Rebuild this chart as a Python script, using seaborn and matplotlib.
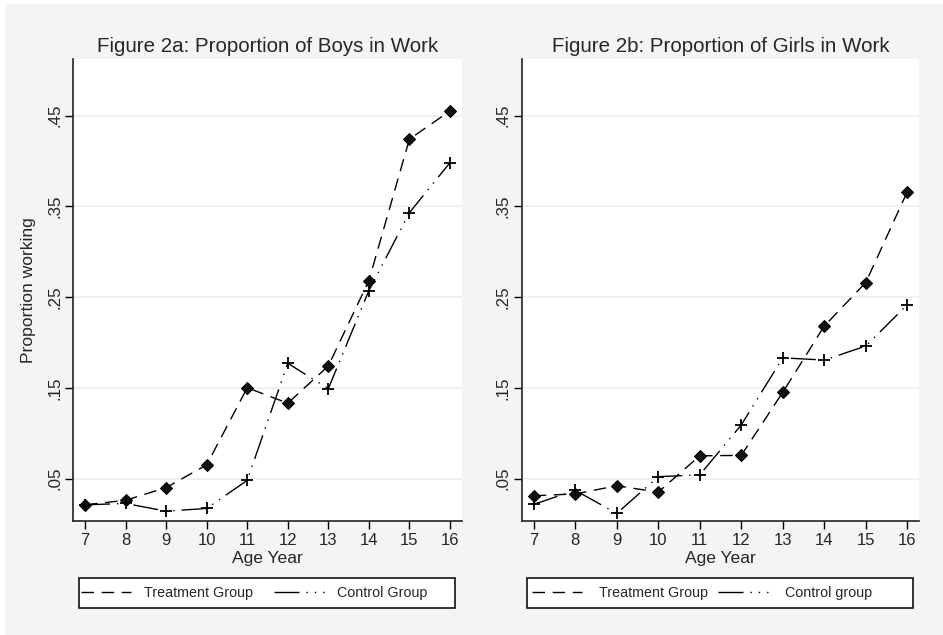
import matplotlib
matplotlib.use('Agg')
import matplotlib.pyplot as plt
import pandas as pd
import seaborn as sns
from matplotlib.lines import Line2D
from matplotlib.patches import Rectangle

# Data
ages = [7, 8, 9, 10, 11, 12, 13, 14, 15, 16]
boys_treatment = [0.021, 0.026, 0.040, 0.065, 0.150, 0.133, 0.174, 0.268, 0.424, 0.455]
boys_control = [0.021, 0.0225, 0.014, 0.017, 0.048, 0.177, 0.149, 0.257, 0.343, 0.398]
girls_treatment = [0.031, 0.033, 0.042, 0.035, 0.075, 0.0755, 0.145, 0.218, 0.266, 0.366]
girls_control = [0.0215, 0.037, 0.0115, 0.052, 0.054, 0.109, 0.183, 0.1805, 0.196, 0.2415]
ytick_vals = [0.05, 0.15, 0.25, 0.35, 0.45]
ytick_labels = ['.05', '.15', '.25', '.35', '.45']

sns.set_theme(style='white')
plt.rcParams['font.family'] = ['Liberation Sans', 'DejaVu Sans']

W, H = 943, 635
treat_dash = (0, (9, 5.5))
ctrl_dash = (0, (18, 5, 1, 5, 1, 5))

fig = plt.figure(figsize=(9.43, 6.35), dpi=100)
fig.patch.set_facecolor('white')
# light gray graph region (Stata-style)
fig.patches.append(Rectangle((5 / W, 0), 1, 1 - 4 / H, transform=fig.transFigure,
                             facecolor='#f4f4f4', edgecolor='none', zorder=-10))

panels = [
    dict(rect=[73.3 / W, 0.18, 388.4 / W, 0.7266], title='Figure 2a: Proportion of Boys in Work',
         treat=boys_treatment, ctrl=boys_control, ctrl_label='Control Group',
         ylabel='Proportion working', leg=(79, 455), start=2, htp=0.9, cs=1.5),
    dict(rect=[521.7 / W, 0.18, 397.6 / W, 0.7266], title='Figure 2b: Proportion of Girls in Work',
         treat=girls_treatment, ctrl=girls_control, ctrl_label='Control group',
         ylabel='', leg=(527, 913), start=5, htp=1.2, cs=0.7),
]

for p in panels:
    ax = fig.add_axes(p['rect'])
    ax.set_facecolor('white')
    df = pd.DataFrame({'age': ages, 'treat': p['treat'], 'ctrl': p['ctrl']})
    sns.lineplot(data=df, x='age', y='treat', ax=ax, color='black', linewidth=1.0,
                 linestyle=treat_dash, marker='D', markersize=6, markeredgecolor='black',
                 markerfacecolor='#111111')
    sns.lineplot(data=df, x='age', y='ctrl', ax=ax, color='black', linewidth=1.0,
                 linestyle=ctrl_dash, marker='+', markersize=8, markeredgewidth=1.3,
                 markeredgecolor='black')
    ax.set_xlim(6.71, 16.29)
    ax.set_ylim(0.0035, 0.512)
    ax.set_xticks(ages)
    ax.set_xticklabels([str(a) for a in ages], fontsize=12)
    ax.set_yticks(ytick_vals)
    ax.set_yticklabels(ytick_labels, fontsize=12.2, rotation=90, va='center')
    ax.yaxis.grid(True, color='#eeeeee', linewidth=1.2)
    ax.xaxis.grid(False)
    ax.tick_params(axis='both', direction='out', length=6, width=1, color='black',
                   left=True, bottom=True)
    ax.tick_params(axis='y', pad=2)
    ax.tick_params(axis='x', pad=3)
    for s in ['top', 'right']:
        ax.spines[s].set_visible(False)
    for s in ['left', 'bottom']:
        ax.spines[s].set_color('#222222')
        ax.spines[s].set_linewidth(1.2)
    ax.set_xlabel('Age Year', fontsize=12.6, labelpad=2)
    ax.set_ylabel(p['ylabel'], fontsize=12.6, labelpad=8)
    ax.set_title(p['title'], fontsize=14.8, pad=5)

    # legend box
    x0, x1 = p['leg']
    fig.patches.append(Rectangle((x0 / W, 1 - 608 / H), (x1 - x0) / W, 30 / H,
                                 transform=fig.transFigure, facecolor='white',
                                 edgecolor='#111111', linewidth=1.2, zorder=1))
    handles = [Line2D([], [], color='black', linewidth=1.0, linestyle=treat_dash),
               Line2D([], [], color='black', linewidth=1.0, linestyle=ctrl_dash)]
    leg = fig.legend(handles, ['Treatment Group', p['ctrl_label']], ncol=2,
                     loc='center left', bbox_to_anchor=((x0 + p['start']) / W, 1 - 593 / H),
                     frameon=False, fontsize=10.3, handlelength=3.5,
                     handletextpad=p['htp'], borderpad=0, borderaxespad=0,
                     columnspacing=p['cs'])
    leg.set_zorder(2)

fig.savefig('out.png', dpi=100)
